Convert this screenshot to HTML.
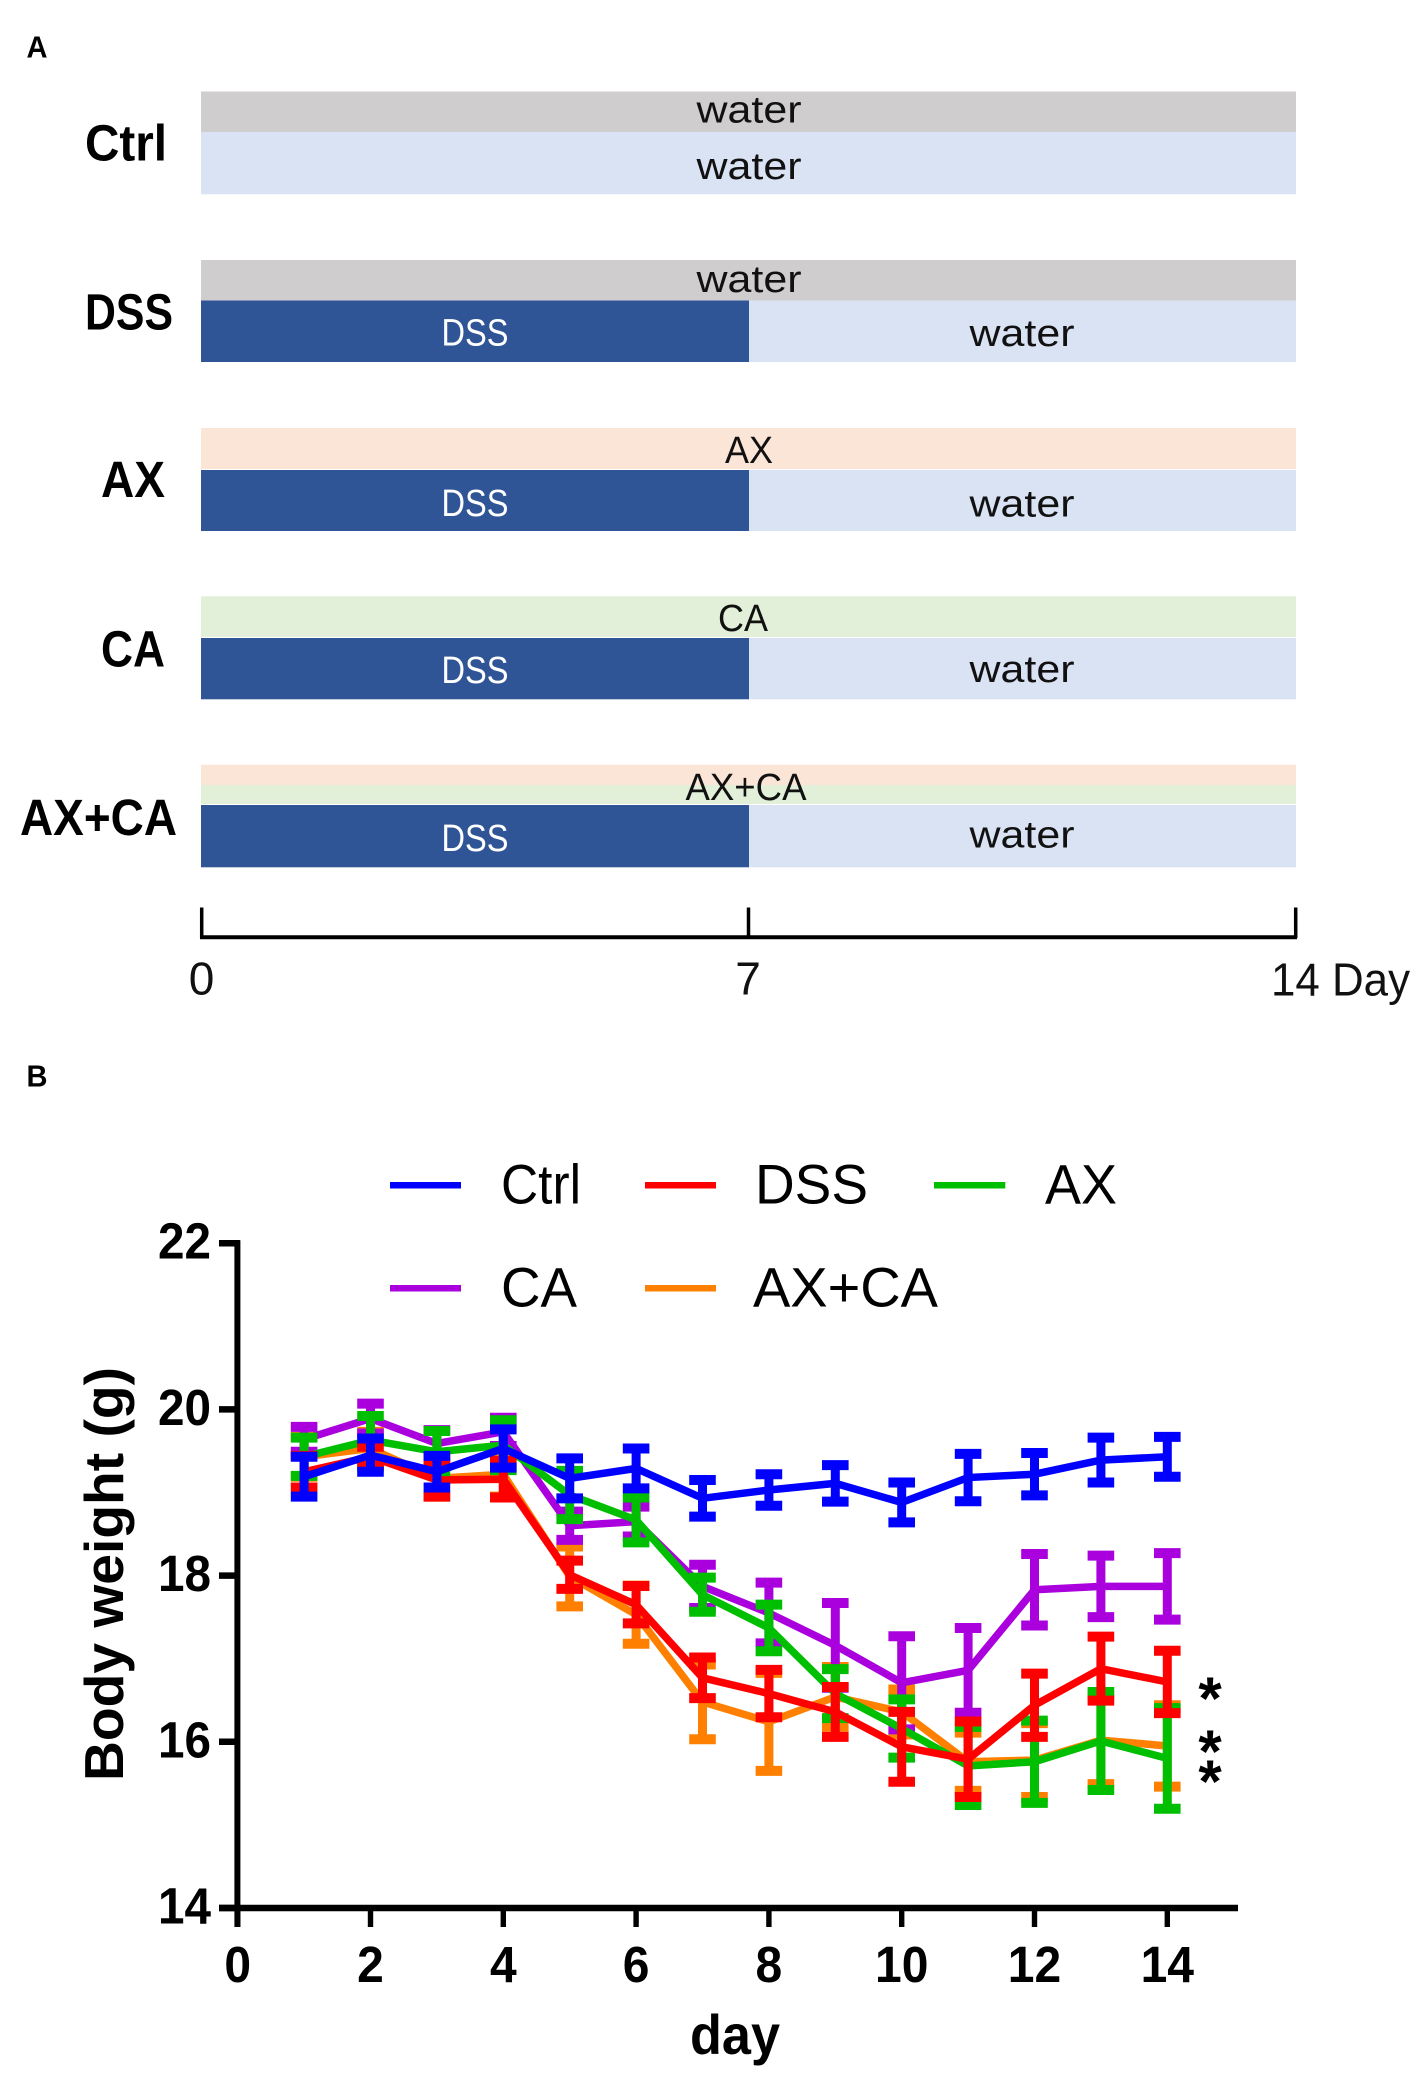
<!DOCTYPE html>
<html lang="en">
<head>
<meta charset="utf-8">
<title>Experimental schedule and body weight</title>
<style>
html,body{margin:0;padding:0;background:#fff}
svg{display:block}
text{font-family:"Liberation Sans",sans-serif}
.in{font-size:38px;fill:#111;text-anchor:middle}
.dss{font-size:38px;fill:#fff;text-anchor:middle}
.grp{font-size:51px;font-weight:bold;fill:#000}
.panel{font-size:31px;font-weight:bold;fill:#000}
.tl{font-size:46px;fill:#111}
.leg{font-size:56px;fill:#000}
.tick{font-size:51px;font-weight:bold;fill:#000}
</style>
</head>
<body>
<svg id="figure" xmlns="http://www.w3.org/2000/svg" width="1418" height="2073" viewBox="0 0 1418 2073">
  <rect width="1418" height="2073" fill="#fff"/>
  <text class="panel" x="26.500" y="57.500" textLength="21" lengthAdjust="spacingAndGlyphs">A</text>

  <g>
    <rect x="201" y="91.500" width="1095" height="40.500" fill="#cfcdcd"/>
    <rect x="201" y="132" width="1095" height="62.300" fill="#dae3f3"/>
    <text class="grp" x="85" y="160.500" textLength="82" lengthAdjust="spacingAndGlyphs">Ctrl</text>
    <text class="in" x="749" y="122.500" textLength="105" lengthAdjust="spacingAndGlyphs">water</text>
    <text class="in" x="749" y="179" textLength="105" lengthAdjust="spacingAndGlyphs">water</text>
  </g>

  <g>
    <rect x="201" y="260" width="1095" height="40.500" fill="#cfcdcd"/>
    <rect x="201" y="300.500" width="548" height="61.500" fill="#2f5597"/>
    <rect x="749" y="300.500" width="547" height="61.500" fill="#dae3f3"/>
    <text class="grp" x="85" y="329.500" textLength="88" lengthAdjust="spacingAndGlyphs">DSS</text>
    <text class="in" x="749" y="292" textLength="105" lengthAdjust="spacingAndGlyphs">water</text>
    <text class="dss" x="475" y="345.500" textLength="67" lengthAdjust="spacingAndGlyphs">DSS</text>
    <text class="in" x="1022" y="346" textLength="105" lengthAdjust="spacingAndGlyphs">water</text>
  </g>

  <g>
    <rect x="201" y="428" width="1095" height="41" fill="#fbe5d6"/>
    <rect x="201" y="470" width="548" height="61" fill="#2f5597"/>
    <rect x="749" y="470" width="547" height="61" fill="#dae3f3"/>
    <text class="grp" x="101" y="497" textLength="64" lengthAdjust="spacingAndGlyphs">AX</text>
    <text class="in" x="749" y="463" textLength="48" lengthAdjust="spacingAndGlyphs">AX</text>
    <text class="dss" x="475" y="516" textLength="67" lengthAdjust="spacingAndGlyphs">DSS</text>
    <text class="in" x="1022" y="516.500" textLength="105" lengthAdjust="spacingAndGlyphs">water</text>
  </g>

  <g>
    <rect x="201" y="596.300" width="1095" height="40.700" fill="#e2f0d9"/>
    <rect x="201" y="638" width="548" height="61.300" fill="#2f5597"/>
    <rect x="749" y="638" width="547" height="61.300" fill="#dae3f3"/>
    <text class="grp" x="101" y="666.500" textLength="64" lengthAdjust="spacingAndGlyphs">CA</text>
    <text class="in" x="743" y="631" textLength="50" lengthAdjust="spacingAndGlyphs">CA</text>
    <text class="dss" x="475" y="683" textLength="67" lengthAdjust="spacingAndGlyphs">DSS</text>
    <text class="in" x="1022" y="682" textLength="105" lengthAdjust="spacingAndGlyphs">water</text>
  </g>

  <g>
    <rect x="201" y="764.700" width="1095" height="20.300" fill="#fbe5d6"/>
    <rect x="201" y="785" width="1095" height="19" fill="#e2f0d9"/>
    <rect x="201" y="805" width="548" height="62.300" fill="#2f5597"/>
    <rect x="749" y="805" width="547" height="62.300" fill="#dae3f3"/>
    <text class="grp" x="20" y="835" textLength="157" lengthAdjust="spacingAndGlyphs">AX+CA</text>
    <text class="in" x="746" y="800" textLength="121" lengthAdjust="spacingAndGlyphs">AX+CA</text>
    <text class="dss" x="475" y="851" textLength="67" lengthAdjust="spacingAndGlyphs">DSS</text>
    <text class="in" x="1022" y="847.500" textLength="105" lengthAdjust="spacingAndGlyphs">water</text>
  </g>

  <g stroke="#000" fill="none">
    <path d="M200 937.300H1297" stroke-width="4"/>
    <path d="M201.700 907.500V938" stroke-width="3.500"/>
    <path d="M748.500 907.500V938" stroke-width="3.500"/>
    <path d="M1295.700 907.500V938" stroke-width="3.500"/>
  </g>
  <text class="tl" x="201.500" y="994.500" text-anchor="middle">0</text>
  <text class="tl" x="748" y="994.500" text-anchor="middle">7</text>
  <text class="tl" x="1271" y="995.500" textLength="139" lengthAdjust="spacingAndGlyphs">14 Day</text>

  <text class="panel" x="26.500" y="1086.500" textLength="21" lengthAdjust="spacingAndGlyphs">B</text>

  <g id="chart"></g>

  <g>
    <g>
      <rect x="390" y="1182" width="71" height="6.500" fill="#0000ff"/>
      <text class="leg" x="501" y="1203.300" textLength="80" lengthAdjust="spacingAndGlyphs">Ctrl</text>
    </g>
    <g>
      <rect x="645" y="1182" width="71" height="6.500" fill="#ff0000"/>
      <text class="leg" x="755" y="1203.300" textLength="113" lengthAdjust="spacingAndGlyphs">DSS</text>
    </g>
    <g>
      <rect x="934" y="1182" width="71.300" height="6.500" fill="#00bf00"/>
      <text class="leg" x="1045" y="1203.300" textLength="72" lengthAdjust="spacingAndGlyphs">AX</text>
    </g>
    <g>
      <rect x="390" y="1285" width="71" height="6.500" fill="#a900dd"/>
      <text class="leg" x="501" y="1306.700" textLength="76" lengthAdjust="spacingAndGlyphs">CA</text>
    </g>
    <g>
      <rect x="645" y="1285" width="71" height="6.500" fill="#ff8000"/>
      <text class="leg" x="753" y="1306.700" textLength="185" lengthAdjust="spacingAndGlyphs">AX+CA</text>
    </g>
  </g>

  <text x="1210" y="1719" font-size="60" font-weight="bold" text-anchor="middle">*</text>
  <text x="1210" y="1772" font-size="60" font-weight="bold" text-anchor="middle">*</text>
  <text x="1210" y="1802" font-size="60" font-weight="bold" text-anchor="middle">*</text>
</svg>
<script>
const days = [1,2,3,4,5,6,7,8,9,10,11,12,13,14];
const xTickLabels = [0,2,4,6,8,10,12,14];
const yTickLabels = [14,16,18,20,22];

const ctrlMean = [19.19,19.45,19.25,19.53,19.17,19.29,18.93,19.03,19.11,18.88,19.18,19.22,19.39,19.43];
const ctrlErr  = [0.24,0.20,0.19,0.23,0.24,0.24,0.22,0.19,0.22,0.24,0.285,0.255,0.27,0.24];
const dssMean  = [19.25,19.43,19.15,19.16,18.01,17.65,16.77,16.58,16.36,15.94,15.79,16.44,16.88,16.72];
const dssErr   = [0.19,0.12,0.20,0.22,0.17,0.225,0.245,0.285,0.30,0.42,0.455,0.38,0.385,0.375];
const axMean   = [19.43,19.63,19.49,19.57,18.97,18.67,17.77,17.37,16.58,16.16,15.71,15.76,16.01,15.80];
const axErr    = [0.23,0.29,0.25,0.30,0.29,0.27,0.205,0.28,0.295,0.35,0.47,0.495,0.59,0.605];
const caMean   = [19.64,19.89,19.59,19.73,18.60,18.65,17.87,17.55,17.16,16.71,16.86,17.83,17.87,17.87];
const caErr    = [0.15,0.18,0.16,0.17,0.17,0.18,0.26,0.365,0.51,0.56,0.51,0.43,0.37,0.40];
const axcaMean = [19.43,19.53,19.17,19.22,17.99,17.53,16.48,16.24,16.54,16.36,15.76,15.78,16.02,15.95];
const axcaErr  = [0.24,0.20,0.22,0.27,0.36,0.35,0.45,0.59,0.36,0.27,0.35,0.445,0.53,0.49];

const NS = 'http://www.w3.org/2000/svg';
const chart = document.getElementById('chart');
const xScale = function (d) { return 237.7 + d * 66.4; };
const yScale = function (v) { return 1908 - (v - 14) * 83.1; };

function mk(tag, attrs, parent) {
  const el = document.createElementNS(NS, tag);
  for (const k in attrs) el.setAttribute(k, attrs[k]);
  parent.appendChild(el);
  return el;
}

function drawSeries(key, color, mean, err) {
  const g = mk('g', {}, chart);
  
  
  days.forEach(function (d, i) {
    const x = xScale(d);
    const top = yScale(mean[i] + err[i]);
    const bot = yScale(mean[i] - err[i]);
    const stem = mk('line', {x1: x, x2: x, y1: top, y2: bot, stroke: color, 'stroke-width': 9}, g);
    
    
    const capTop = mk('line', {x1: x - 13.3, x2: x + 13.3, y1: top, y2: top, stroke: color, 'stroke-width': 10}, g);
    
    
    const capBot = mk('line', {x1: x - 13.3, x2: x + 13.3, y1: bot, y2: bot, stroke: color, 'stroke-width': 10}, g);
    
    
  });
  const pts = days.map(function (d, i) { return xScale(d) + ',' + yScale(mean[i]); }).join(' ');
  const line = mk('polyline', {points: pts, fill: 'none', stroke: color, 'stroke-width': 7.5, 'stroke-linejoin': 'miter'}, g);
  
  
}

drawSeries('ax-ca', '#ff8000', axcaMean, axcaErr);
drawSeries('ca', '#a900dd', caMean, caErr);
drawSeries('ax', '#00bf00', axMean, axErr);
drawSeries('dss', '#ff0000', dssMean, dssErr);
drawSeries('ctrl', '#0000ff', ctrlMean, ctrlErr);

const yAxis = mk('line', {x1: 237.4, x2: 237.4, y1: yScale(22) - 3, y2: 1927, stroke: '#000', 'stroke-width': 6}, chart);


const xAxis = mk('line', {x1: 219, x2: 1238, y1: 1908, y2: 1908, stroke: '#000', 'stroke-width': 6.5}, chart);



yTickLabels.forEach(function (v) {
  const y = yScale(v);
  const t = mk('line', {x1: 219, x2: 240, y1: y, y2: y, stroke: '#000', 'stroke-width': 6.5}, chart);
  
  
  const l = mk('text', {x: 211, y: y + 15.5, 'text-anchor': 'end', 'class': 'tick', textLength: 53, lengthAdjust: 'spacingAndGlyphs'}, chart);
  l.textContent = v;
  
  
});

xTickLabels.forEach(function (v) {
  const x = xScale(v);
  const t = mk('line', {x1: x, x2: x, y1: 1908, y2: 1927, stroke: '#000', 'stroke-width': 5.4}, chart);
  
  
  const wide = String(v).length * 26.7;
  const l = mk('text', {x: x, y: 1982, 'text-anchor': 'middle', 'class': 'tick', textLength: wide, lengthAdjust: 'spacingAndGlyphs'}, chart);
  l.textContent = v;
  
  
});

const xTitle = mk('text', {x: 735, y: 2054, 'text-anchor': 'middle', 'font-size': 56, 'font-weight': 'bold', textLength: 90, lengthAdjust: 'spacingAndGlyphs'}, chart);
xTitle.textContent = 'day';



const yTitle = mk('text', {transform: 'translate(123 1574) rotate(-90)', 'text-anchor': 'middle', 'font-size': 55, 'font-weight': 'bold', textLength: 414, lengthAdjust: 'spacingAndGlyphs'}, chart);
yTitle.textContent = 'Body weight (g)';


</script>
</body>
</html>
